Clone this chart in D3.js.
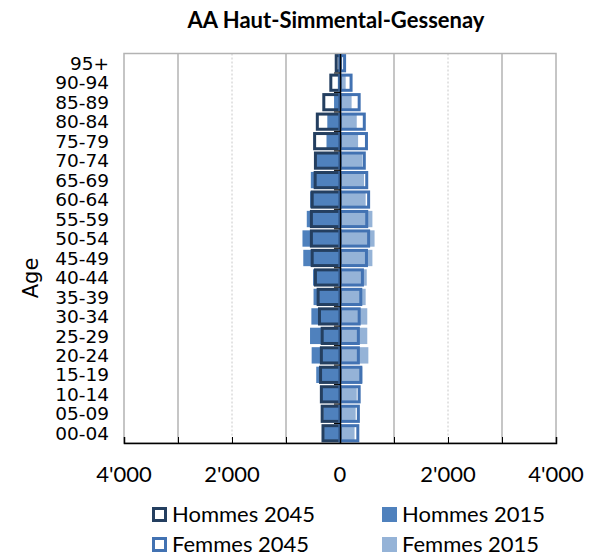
<!DOCTYPE html>
<html>
<head>
<meta charset="utf-8">
<script src="https://d3js.org/d3.v7.min.js"></script>
<style>
  body { margin: 0; background: #fff; }
  svg { display: block; }
</style>
</head>
<body>
<script>
const w = 595;
const h = 558;

// age groups, youngest first
const ages = ["00-04", "05-09", "10-14", "15-19", "20-24", "25-29", "30-34", "35-39", "40-44", "45-49",
  "50-54", "55-59", "60-64", "65-69", "70-74", "75-79", "80-84", "85-89", "90-94", "95+"];

const hommes2015 = [295, 310, 355, 440, 525, 555, 530, 490, 500, 680, 695, 615, 555, 540, 440, 250, 235, 110, 40, 20];
const femmes2015 = [270, 290, 310, 415, 525, 505, 505, 475, 495, 600, 640, 600, 475, 445, 415, 335, 310, 215, 105, 40];
const hommes2045 = [315, 330, 345, 360, 345, 330, 380, 405, 455, 515, 530, 530, 515, 460, 455, 470, 420, 300, 170, 70];
const femmes2045 = [330, 340, 355, 385, 340, 340, 355, 385, 415, 490, 530, 495, 530, 495, 450, 490, 450, 355, 205, 85];

const xTicks = [-4000, -2000, 0, 2000, 4000];
const gridSolid = [-3000, -1000, 1000, 3000];
const gridDotted = [-2000, 2000];

const colHommes2015 = "#4f81bd";
const colFemmes2015 = "#95b3d7";
const colHommes2045 = "#243f60";
const colFemmes2045 = "#4272b2";

const legendData = [
  { label: "Hommes 2045", type: "outline", color: colHommes2045 },
  { label: "Hommes 2015", type: "fill", color: colHommes2015 },
  { label: "Femmes 2045", type: "outline", color: colFemmes2045 },
  { label: "Femmes 2015", type: "fill", color: colFemmes2015 }
];

const plotLeft = 124, plotRight = 556, plotTop = 53.5, plotBottom = 443;

const svg = d3.select("body")
  .append("svg")
  .attr("width", w)
  .attr("height", h);

const x = d3.scaleLinear().domain([-4000, 4000]).range([plotLeft, plotRight]);
const y = d3.scaleBand().domain(ages.slice().reverse()).range([plotTop, plotBottom]);

const fmt = d3.formatLocale({ decimal: ".", thousands: "'", grouping: [3], currency: ["", ""] }).format(",");

// title
svg.append("text")
  .attr("x", 336)
  .attr("y", 28)
  .attr("text-anchor", "middle")
  .style("font-family", "Lato")
  .style("font-weight", "bold")
  .style("font-size", "22px")
  .text("AA Haut-Simmental-Gessenay");

// gridlines
svg.append("g").selectAll("line")
  .data(gridSolid)
  .enter()
  .append("line")
  .attr("x1", d => x(d)).attr("x2", d => x(d))
  .attr("y1", plotTop).attr("y2", plotBottom)
  .attr("stroke", "#b3b3b3")
  .attr("stroke-width", 1.5);

svg.append("g").selectAll("line")
  .data(gridDotted)
  .enter()
  .append("line")
  .attr("x1", d => x(d)).attr("x2", d => x(d))
  .attr("y1", plotTop).attr("y2", plotBottom)
  .attr("stroke", "#c8c8c8")
  .attr("stroke-width", 1)
  .attr("stroke-dasharray", "2,2");

// plot frame
svg.append("rect")
  .attr("x", plotLeft).attr("y", plotTop)
  .attr("width", plotRight - plotLeft).attr("height", plotBottom - plotTop)
  .attr("fill", "none")
  .attr("stroke", "#b3b3b3")
  .attr("stroke-width", 1.5);

// 2015 bars (filled)
const bh15 = y.bandwidth() * 0.84;
const off15 = (y.bandwidth() - bh15) / 2;

svg.append("g").selectAll("rect")
  .data(ages)
  .enter()
  .append("rect")
  .attr("x", (d, i) => x(-hommes2015[i]))
  .attr("y", d => y(d) + off15)
  .attr("width", (d, i) => x(0) - x(-hommes2015[i]))
  .attr("height", bh15)
  .attr("fill", colHommes2015);

svg.append("g").selectAll("rect")
  .data(ages)
  .enter()
  .append("rect")
  .attr("x", x(0))
  .attr("y", d => y(d) + off15)
  .attr("width", (d, i) => x(femmes2015[i]) - x(0))
  .attr("height", bh15)
  .attr("fill", colFemmes2015);

// 2045 bars (outline only)
const bh45 = y.bandwidth() * 0.78;
const off45 = (y.bandwidth() - bh45) / 2;

svg.append("g").selectAll("rect")
  .data(ages)
  .enter()
  .append("rect")
  .attr("x", (d, i) => x(-hommes2045[i]))
  .attr("y", d => y(d) + off45)
  .attr("width", (d, i) => x(0) - x(-hommes2045[i]))
  .attr("height", bh45)
  .attr("fill", "none")
  .attr("stroke", colHommes2045)
  .attr("stroke-width", 3);

svg.append("g").selectAll("rect")
  .data(ages)
  .enter()
  .append("rect")
  .attr("x", x(0))
  .attr("y", d => y(d) + off45)
  .attr("width", (d, i) => x(femmes2045[i]) - x(0))
  .attr("height", bh45)
  .attr("fill", "none")
  .attr("stroke", colFemmes2045)
  .attr("stroke-width", 3);

// vertical axis at zero
const yAxis = svg.append("g")
  .attr("transform", "translate(" + x(0) + ",0)")
  .call(d3.axisLeft(y).tickSize(0).tickFormat(""));
yAxis.select(".domain").attr("stroke", "#000").attr("stroke-width", 1.5);

svg.append("g").selectAll("line")
  .data(ages.slice(1))
  .enter()
  .append("line")
  .attr("x1", x(0) - 6).attr("x2", x(0))
  .attr("y1", d => y(d) + y.bandwidth()).attr("y2", d => y(d) + y.bandwidth())
  .attr("stroke", "#000")
  .attr("stroke-width", 1);

// age labels
svg.append("g").selectAll("text")
  .data(ages)
  .enter()
  .append("text")
  .attr("x", 109)
  .attr("y", d => y(d) + y.bandwidth() / 2)
  .attr("dy", "0.36em")
  .attr("text-anchor", "end")
  .style("font-family", "DejaVu Sans")
  .style("font-size", "18.5px")
  .text(d => d);

svg.append("text")
  .attr("transform", "translate(38,278) rotate(-90)")
  .attr("text-anchor", "middle")
  .style("font-family", "DejaVu Sans")
  .style("font-size", "21px")
  .text("Age");

// bottom axis
const xAxis = svg.append("g")
  .attr("transform", "translate(0," + plotBottom + ")")
  .call(d3.axisBottom(x).tickValues(d3.range(-4000, 4001, 1000)).tickSize(-6).tickFormat(""));
xAxis.select(".domain").attr("stroke", "#000").attr("stroke-width", 1.5);
xAxis.selectAll(".tick line").attr("stroke", "#000");

svg.append("g").selectAll("text")
  .data(xTicks)
  .enter()
  .append("text")
  .attr("x", d => x(d))
  .attr("y", 482)
  .attr("text-anchor", "middle")
  .style("font-family", "Lato")
  .style("font-size", "22px")
  .text(d => fmt(Math.abs(d)));

// legend
const legend = svg.append("g")
  .selectAll("g")
  .data(legendData)
  .enter()
  .append("g")
  .attr("transform", (d, i) => "translate(" + (i % 2 === 0 ? 152 : 382) + "," + (507 + Math.floor(i / 2) * 30) + ")");

legend.append("rect")
  .attr("x", d => d.type === "outline" ? 1.5 : 0)
  .attr("y", d => d.type === "outline" ? 1.5 : 0)
  .attr("width", d => d.type === "outline" ? 12 : 15)
  .attr("height", d => d.type === "outline" ? 12 : 15)
  .attr("fill", d => d.type === "outline" ? "#fff" : d.color)
  .attr("stroke", d => d.type === "outline" ? d.color : "none")
  .attr("stroke-width", 3);

legend.append("text")
  .attr("x", 20)
  .attr("y", 14.5)
  .style("font-family", "Lato")
  .style("font-size", "22px")
  .text(d => d.label);
</script>
</body>
</html>
